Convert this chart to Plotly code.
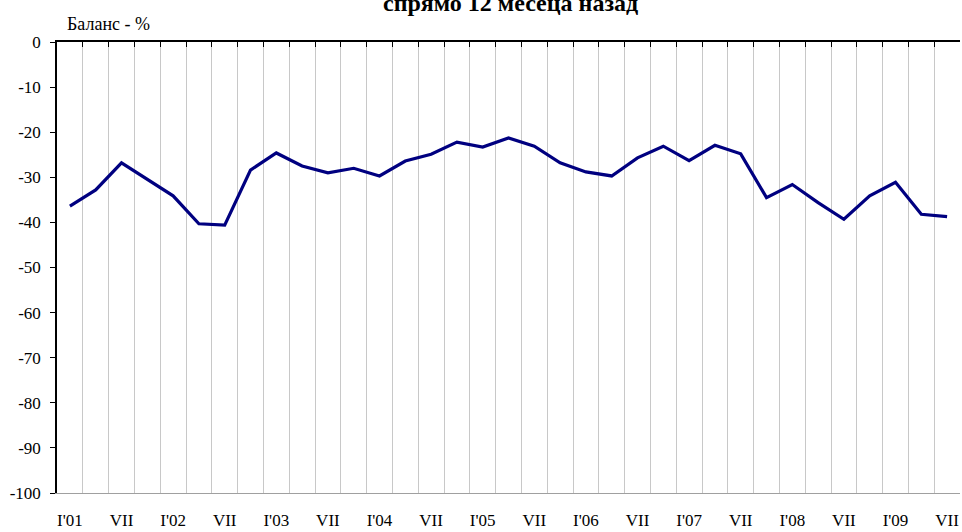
import plotly.graph_objects as go

quarters = ["I", "IV", "VII", "X"]
years = ["01", "02", "03", "04", "05", "06", "07", "08", "09"]
categories = [f"{q}'{y}" for y in years for q in quarters][:35]

values = [-36.4, -32.8, -26.8, -30.5, -34.1, -40.3, -40.6, -28.4,
          -24.6, -27.5, -29.0, -28.0, -29.7, -26.4, -24.9, -22.2,
          -23.3, -21.3, -23.1, -26.8, -28.8, -29.7, -25.7, -23.1,
          -26.3, -22.9, -24.8, -34.5, -31.6, -35.6, -39.3, -34.1,
          -31.1, -38.2, -38.7]

def label_for(c):
    q, y = c.split("'")
    if q == "I":
        return c
    if q == "VII":
        return "VII"
    return ""

tick_labels = [label_for(c) for c in categories]
y_ticks = list(range(0, -101, -10))
y_tick_text = [str(v) for v in y_ticks]

n = len(categories)
xs = list(range(n))
boundaries = [i - 0.5 for i in range(n + 1)]

font_family = "Liberation Serif"

fig = go.Figure()
fig.add_trace(go.Scatter(
    x=xs, y=values, mode="lines",
    line=dict(color="#000080", width=3.2),
    showlegend=False, hoverinfo="skip"))
fig.add_trace(go.Scatter(x=xs, y=values, xaxis="x2", mode="lines",
                         line=dict(width=0), showlegend=False, hoverinfo="skip"))

fig.update_layout(
    width=962, height=532,
    margin=dict(l=57, r=2, t=42, b=37),
    paper_bgcolor="white", plot_bgcolor="white",
    font=dict(family=font_family, size=17, color="black"),
    xaxis=dict(
        range=[-0.5, n - 0.5],
        tickmode="array", tickvals=xs, ticktext=tick_labels,
        showgrid=False, ticks="", ticklabelstandoff=12,
        showline=True, linecolor="#a0a0a0", linewidth=1,
        zeroline=False,
        minor=dict(tickmode="array", tickvals=boundaries, showgrid=True,
                   gridcolor="#c8c8c8", gridwidth=1, ticks=""),
    ),
    xaxis2=dict(
        overlaying="x", side="top", range=[-0.5, n - 0.5],
        tickmode="array", tickvals=boundaries, ticktext=[""] * len(boundaries),
        ticks="inside", ticklen=5, tickcolor="black", tickwidth=1,
        showline=True, linecolor="black", linewidth=1.5,
        showgrid=False, zeroline=False, showticklabels=False,
    ),
    yaxis=dict(
        range=[-100, 0], tickmode="array", tickvals=y_ticks, ticktext=y_tick_text,
        ticks="outside", ticklen=5, tickcolor="black", ticklabelstandoff=6,
        showline=True, linecolor="black", linewidth=1.5,
        showgrid=False, zeroline=False,
    ),
    yaxis2=dict(overlaying="y", side="right", range=[-100, 0],
                showline=True, linecolor="#a0a0a0", linewidth=1,
                showticklabels=False, ticks="", showgrid=False,
                zeroline=False),
    annotations=[
        dict(text="<b>спрямо 12 месеца назад</b>", xref="paper", yref="paper",
             x=0.502, y=1, yshift=39, xanchor="center", yanchor="middle",
             showarrow=False, font=dict(size=24, family=font_family)),
        dict(text="Баланс - %", xref="paper", yref="paper",
             x=0.009, y=1, yshift=18, xanchor="left", yanchor="middle",
             showarrow=False, font=dict(size=18, family=font_family)),
    ],
)

fig.write_html("out.html", config={"displayModeBar": False},
               post_script="document.body.style.margin='0';")
